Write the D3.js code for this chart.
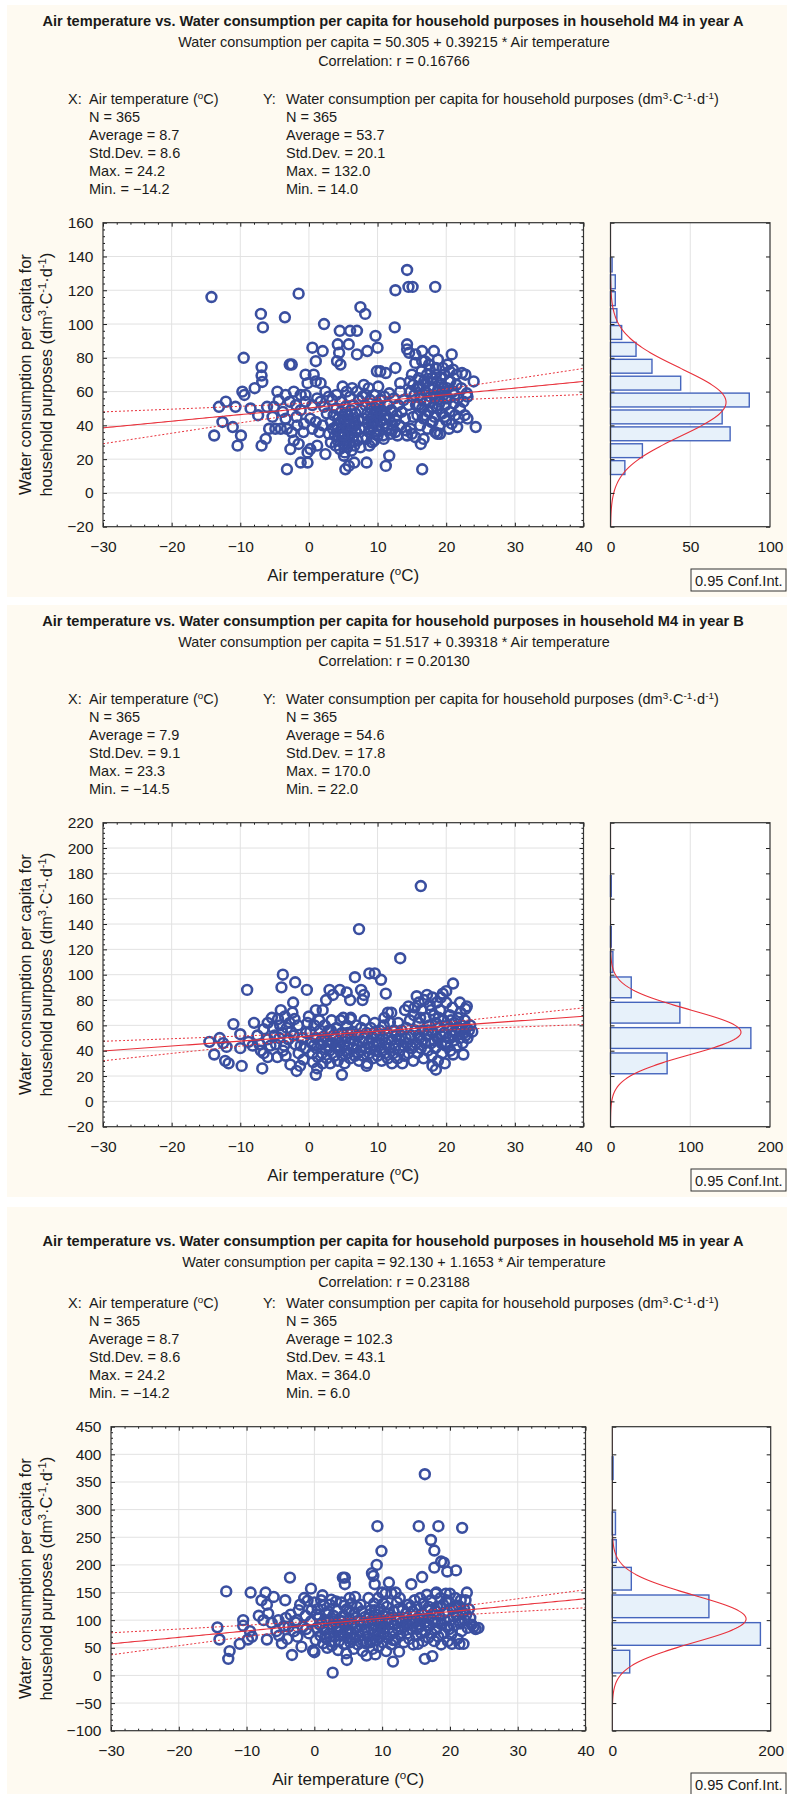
<!DOCTYPE html>
<html>
<head>
<meta charset="utf-8">
<script src="https://cdn.jsdelivr.net/npm/d3@7"></script>
<style>
  body { margin: 0; background: #fff; }
  svg { display: block; font-family: "Liberation Sans", Arial, sans-serif; }
</style>
</head>
<body>
<div id="chart"></div>
<script>
// ---- header data ----
const panelTitles = [
  "Air temperature vs. Water consumption per capita for household purposes in household M4 in year A",
  "Air temperature vs. Water consumption per capita for household purposes in household M4 in year B",
  "Air temperature vs. Water consumption per capita for household purposes in household M5 in year A"
];
const intercepts = [50.305, 51.517, 92.130];
const slopes = [0.39215, 0.39318, 1.1653];
const correlations = [0.16766, 0.20130, 0.23188];
const nObs = [365, 365, 365];
const xAvg = [8.7, 7.9, 8.7];
const xStd = [8.6, 9.1, 8.6];
const xMax = [24.2, 23.3, 24.2];
const xMin = [-14.2, -14.5, -14.2];
const yAvg = [53.7, 54.6, 102.3];
const yStd = [20.1, 17.8, 43.1];
const yMax = [132.0, 170.0, 364.0];
const yMin = [14.0, 22.0, 6.0];

// ---- axis ticks ----
const xTicks = [-30, -20, -10, 0, 10, 20, 30, 40];
const yTicksM4A = [-20, 0, 20, 40, 60, 80, 100, 120, 140, 160];
const yTicksM4B = [-20, 0, 20, 40, 60, 80, 100, 120, 140, 160, 180, 200, 220];
const yTicksM5A = [-100, -50, 0, 50, 100, 150, 200, 250, 300, 350, 400, 450];
const histTicksM4A = [0, 50, 100];
const histTicksM4B = [0, 100, 200];
const histTicksM5A = [0, 200];

// ---- histograms (bin start, count) ----
const binWidths = [10, 20, 50];
const binStartsM4A = [10, 20, 30, 40, 50, 60, 70, 80, 90, 100, 110, 120, 130];
const binCountsM4A = [9, 20, 75, 70, 87, 44, 26, 16, 7, 4, 3, 3, 1];
const binStartsM4B = [20, 40, 60, 80, 100, 120, 140, 160];
const binCountsM4B = [71, 176, 87, 26, 3, 1, 0, 1];
const binStartsM5A = [0, 50, 100, 150, 200, 250, 300, 350];
const binCountsM5A = [22, 187, 122, 24, 5, 4, 0, 1];

// ---- scatter points [air temperature, water consumption] ----
const pointsM4A = [
  [-14.2,116],[-1.5,118],[-7,106],[-6.7,98],[-3.5,104],[2.2,100],[4.5,96],[6,96],[7,96],[9.7,93],[7.5,110],[8.2,106],
  [12.5,98],[12.6,120],[14.3,132],[14.5,122],[15.1,122],[18.4,122],[20.8,82],[5.8,88],[4.2,88],[4.4,83],[4.1,78],[4.6,76],
  [7,82],[8.5,84],[10,86],[0.5,86],[2,84],[1,78],[-0.5,70],[0.7,70],[-0.2,65],[1,66],[1.7,65],[-9.5,80],[-6.9,74.5],
  [-6.9,69.5],[-6.8,65.7],[-2.8,76],[-2.5,76],
  [-13.8,34],[-13.1,51],[-12.1,54],[-12.6,42],[-11.1,39],[-10.7,51],[-10.4,28],[-9.9,34],[-9.7,60],[-9.4,58],[-8.5,50],
  [-7.9,62],[-7.4,46],[-6.9,28],[-6.3,32],[-6.1,51],[-5.1,51],[-5.3,45],[-5.8,38],[-4.9,38],[-4.1,38],[-3.2,38],[-4.6,60],
  [-3.4,58],[-2.2,60],[-3.4,44],[-2.7,26],[-3.2,14],[-2.2,31],[-1.5,29],[-1.9,52],[-1.2,49],[-0.5,54],[-1.2,58],[-0.5,58],
  [-1.2,18],[-0.2,18],[-0.2,24],[-0.7,41],[-1.7,40],[0.2,44],[1,42],[0.2,26],[1.2,28],[2.4,60],[2.9,57],[2.4,23],[1.7,54],
  [2.2,51],[4.9,63],[5.1,22],[5.3,14],[5.8,16],[6.6,18],[8.4,18],[11.2,16],[11.7,22],[16.5,14],
  [-2.5,36],[-1.8,45],[-0.8,36],[0.5,38],[1.5,36],[2,40],[-3.8,48],[-4.4,55],[-2.8,54],[0.5,52],[1.2,56],[2.6,47],[2.9,35],[3.2,30],
  [3.2,42],[3.5,38],[3.6,46],[3.8,34],[3.9,28],[4,50],[4.1,40],[4.2,31],[4.3,44],[4.4,36],[4.5,26],[4.6,54],[4.7,48],[4.8,33],
  [4.9,39],[5,29],[5,45],[5.1,35],[5.2,42],[5.3,51],[5.4,31],[5.5,38],[5.6,27],[5.7,46],[5.8,34],[5.9,41],[6,57],[6,30],
  [6.1,49],[6.2,37],[6.3,44],[6.4,33],[6.5,52],[6.6,28],[6.7,40],[6.8,47],[6.9,36],[7,60],[7.1,31],[7.2,43],[7.3,55],[7.4,38],
  [7.5,27],[7.6,49],[3.4,55],[4,58],[5.5,60],[6.3,62],[5.2,24],[6.2,25],
  [8,44],[8.1,38],[8.2,52],[8.3,58],[8.4,32],[8.5,47],[8.6,41],[8.7,62],[8.8,36],[8.9,55],[9,44],[9.1,50],[9.2,30],[9.3,39],
  [9.4,46],[9.5,58],[9.6,42],[9.7,35],[9.8,52],[9.9,48],[10,40],[10.1,63],[10.2,45],[10.3,37],[10.4,55],[10.5,43],[10.6,49],
  [10.8,34],[10.9,41],[11,57],[11.2,46],[11.4,38],[11.5,52],[11.7,44],[11.9,35],[12,49],[12.2,40],[12.4,56],[12.6,36],[12.8,46],
  [13,52],[13.2,40],[13.5,48],[13.8,55],[14,44],[14.2,37],[9.9,72],[10.4,72],[11.2,71],[12.6,74],[13.3,65],[11.7,59],[12.9,34],
  [12.1,37],[10.9,32],[10,34],[12.6,43],[12.1,48],[10.4,55],[13.3,60],[8.8,28],[9.5,31],[7.8,33],[8,64],[7.8,57],
  [14.3,88],[14.6,83],[14.3,85],[15.5,82],[16.5,84],[18.2,84],[15.5,77],[16.5,78],[17.5,76],[18.5,74],[19.5,74],[20.5,72],
  [21.5,70],[22.3,71],[22.8,70],[24,66],[23.1,57],[24.3,39],[23.1,44],[21.6,39],[21.8,44],[18.7,35],[16.3,29],[15.5,33],
  [18.4,36],[16.7,32],[14.8,38],[14.3,34],[15,35],
  [15,70],[15.2,64],[15.4,58],[15.6,52],[15.8,46],[16,68],[16.1,62],[16.3,56],[16.4,72],[16.5,50],[16.7,44],[16.8,66],[17,60],
  [17.1,54],[17.2,70],[17.4,48],[17.5,63],[17.7,57],[17.8,42],[17.9,68],[18,51],[18.1,62],[18.3,45],[18.4,56],[18.6,66],
  [18.7,50],[18.9,60],[19,40],[19.1,54],[19.3,64],[19.4,47],[19.6,58],[19.7,70],[19.9,52],[20,43],[20.1,62],[20.3,56],
  [20.5,48],[20.6,66],[20.8,41],[21,60],[21.1,53],[21.3,46],[21.5,64],[21.7,56],[22,50],[22.2,62],[22.5,54],[22.7,46],[23,59],
  [16.2,40],[17.3,38],[15.2,45],[14.8,60],[14.5,52],[19.8,45],[17.6,73],[16.9,78],[18.8,79],[20.2,76],[21,73],[19.1,35],[20.4,38],
  [15.8,62],[16.2,58],[16.6,64],[17.3,66],[17.6,54],[18.2,58],[18.5,70],[18.9,52],[19.2,68],[19.5,62],[20,56],[20.4,66],
  [21.2,58],[17,46],[18,42],[19.8,60],[16,52],[14.7,66],[4.2,38],[5,34],[5.6,43],[6.4,40],[5.3,47],[4.6,42],[9.2,42],
  [9.6,48],[10.5,47],[10,52],[9,38],[11,44]
];

const pointsM4B = [
  [-14.5,47],[-13,50],[-12.5,46],[-12,43],[-13.8,37],[-12.2,32],[-11.7,30],[-9.8,28],[-10,42],[-10,53],[-11,61],[-9,88],
  [-8,62],[-8.8,47],[-7.5,52],[-8.2,44],[-7,40],[-6.8,26],[-6.6,38],[-6,35],[-6.6,57],[-6,62],[-5.4,66],[-4.5,65],[-4.1,72],
  [-3.5,67],[-2.4,70],[-2.1,65],[-3.9,54],[-5,52],[-6,49],[-7.2,45],[-4.6,35],[-3.8,40],[-3,49],[-2.7,29],[-1.8,24],[-1.3,28],
  [-3.8,100],[-4,90],[-2,94],[-2.3,78],[-0.3,88],[-5.2,58],[-4.8,45],[-4.2,60],[-3.2,58],[-2.6,55],[-2,45],[-1.5,38],[-1,50],
  [-0.8,33],[-0.5,42],[-1.6,60],[-2.8,62],[-3.6,44],
  [0,67],[1,72],[2,72],[0.2,55],[0.4,46],[0.5,38],[0.6,31],[0.8,60],[1,50],[1.1,42],[1.2,26],[1.3,35],[1.5,64],[1.6,56],
  [1.7,45],[1.9,38],[2,30],[2.1,51],[2.3,60],[2.4,42],[2.6,34],[2.7,48],[2.9,56],[3,40],[3.1,30],[3.3,64],[3.4,46],[3.6,52],
  [3.7,36],[3.9,43],[4,58],[4.2,32],[4.3,48],[4.5,40],[4.6,64],[4.8,54],[4.9,36],[5.1,44],[5.2,30],[5.4,50],[5.5,60],[5.7,38],
  [5.9,46],[6,34],[6.1,66],[6.3,55],[6.4,42],[6.6,48],[6.7,36],[6.9,60],[7,44],[7.2,52],[7.3,32],[7.5,40],[7.6,58],[7.8,47],
  [7.9,36],[8.1,64],[8.2,42],[8.4,54],[8.5,30],[8.7,46],[8.8,38],[9,58],[9.1,50],[9.3,34],[9.4,44],[9.6,62],[9.7,40],[9.9,52],
  [10,36],[10.2,46],[10.3,56],[10.5,42],[10.6,32],[10.8,50],[10.9,60],[11.1,38],[11.2,46],[11.4,54],[11.5,34],[11.7,42],
  [11.8,62],[12,48],[12.1,30],[12.3,38],[12.4,56],[12.6,44],[12.7,52],[12.9,34],[13,62],[13.2,40],[13.3,48],[13.5,56],
  [13.6,30],[13.8,44],[13.9,36],
  [1,21],[4.8,21],[3,88],[4.5,88],[5.5,86],[3.5,84],[2.5,80],[6,80],[7.6,88],[8,84],[7.8,80],[11.2,85],[11.5,70],[12,70],
  [6.7,98],[8.8,101],[9.6,101],[10.5,96],[7.3,136],[13.3,113],[6,65],[5,66],[8.4,28],[-0.2,62],
  [14,72],[14.5,75],[15.7,83],[16,78],[18,82],[19.5,85],[20,87],[21,93],[22,78],[22.8,73],[23,75],[23.5,60],[23.8,55],
  [21,37],[22.5,37],[18.5,25],[16.3,170],
  [14.2,58],[14.3,46],[14.5,38],[14.7,64],[14.9,52],[15,42],[15.2,32],[15.3,68],[15.5,56],[15.6,46],[15.8,38],[16,62],
  [16.1,50],[16.3,42],[16.4,72],[16.6,56],[16.7,34],[16.9,46],[17,66],[17.2,52],[17.3,40],[17.5,60],[17.6,76],[17.8,46],
  [17.9,36],[18.1,54],[18.2,68],[18.4,42],[18.5,62],[18.7,50],[18.8,32],[19,58],[19.1,72],[19.3,46],[19.4,38],[19.6,64],
  [19.7,54],[19.9,44],[20,78],[20.2,60],[20.3,50],[20.5,68],[20.6,40],[20.8,56],[20.9,74],[21.1,48],[21.2,62],[21.4,54],
  [21.5,44],[21.7,66],[21.8,58],[22,50],[22.1,70],[22.3,60],[22.4,46],[22.6,54],[22.7,64],[22.9,58],[23.1,50],[23.3,56],
  [19.2,82],[18.6,78],[17.2,84],[16.8,80],[15.4,74],[19.8,30],[18,28],
  [-5.6,44],[-4.3,50],[-3.4,36],[-2.2,52],[-1.2,44],[-0.4,54],[0.7,44],[1.8,48],[2.8,44],[3.8,50],[4.4,44],[5.3,40],
  [6.2,50],[7.1,38],[8,50],[8.9,42],[9.8,46],[10.7,40],[11.6,50],[12.5,42],[13.4,52],[14.1,50],[14.8,44],[15.9,52],
  [16.5,48],[17.4,56],[18.3,48],[19.2,52],[20.1,46],[21,52],[21.9,56],[22.8,52],[16.2,66],[18.9,66],[20.7,64],[17.8,72],
  [3.2,56],[5.6,54],[9.5,54],[11,66]
];

const pointsM5A = [
  [-14.3,87],[-14,65],[-13,152],[-12.5,44],[-12.7,30],[-11,57],[-10.5,100],[-10.5,90],[-9.8,65],[-9.5,80],[-9.4,150],
  [-9.2,70],[-8.2,108],[-7.8,136],[-7.5,100],[-7.2,150],[-7,128],[-6.8,112],[-7,65],[-6.3,95],[-6,142],[-5.6,80],[-5.2,72],
  [-4.8,58],[-4.5,89],[-4.3,136],[-4,66],[-3.6,177],[-3.5,110],[-3.3,37],[-3,80],[-2.8,96],[-2.5,70],[-2.1,128],[-1.9,52],
  [-1.7,88],[-1.5,140],[-1.3,108],[-1,135],[-0.8,76],[-0.5,157],[-0.5,98],[-0.2,45],[0,42],[0,132],[0.2,64],[-2.3,118],[-4.2,104],
  [0.4,86],[0.5,120],[0.7,104],[0.9,72],[1.1,94],[1.2,145],[1.3,58],[1.5,82],[1.7,112],[1.8,66],[2,100],[2.2,76],[2.3,128],
  [2.5,137],[2.5,88],[2.6,54],[2.8,108],[3,70],[3.1,94],[3.3,80],[3.4,118],[3.6,62],[3.7,100],[3.9,86],[4,132],[4.1,74],
  [4.2,177],[4.3,108],[4.4,56],[4.5,177],[4.5,165],[4.6,92],[4.7,40],[4.8,28],[4.8,120],[4.9,68],[5,84],[5.2,140],[5.2,102],
  [5.3,60],[5.5,130],[5.5,76],[5.6,94],[5.8,48],[5.9,112],[6,68],[6.2,86],[6.3,124],[6.4,56],[6.6,100],[6.7,72],[6.9,90],
  [7,116],[7.1,44],[7.2,62],[7.4,82],[7.5,106],[7.7,36],[7.8,70],[7.9,96],[8,140],[2.7,5],[3.5,46],[1.9,50],
  [8.2,60],[8.3,118],[8.4,84],[8.5,185],[8.5,100],[8.6,48],[8.7,180],[8.7,74],[8.8,130],[8.9,165],[8.9,92],[9,38],[9.1,110],
  [9.2,200],[9.2,64],[9.3,270],[9.3,82],[9.4,140],[9.5,52],[9.6,100],[9.7,120],[9.8,70],[9.9,225],[9.9,88],[10,150],[10.1,60],
  [10.2,108],[10.3,78],[10.5,148],[10.5,96],[10.6,44],[10.7,124],[10.8,68],[11,168],[11,86],[11.2,104],[11.3,56],[11.4,148],
  [11.5,76],[11.6,25],[11.7,116],[11.8,92],[12,64],[12.2,132],[12.3,84],[12.5,43],[12.5,104],[12.6,140],[12.7,72],[12.9,96],
  [13,120],[13.2,60],[13.3,88],[13.5,112],[13.7,76],[13.9,128],[14,66],[14.1,100],
  [14.3,165],[14.4,84],[14.5,116],[14.6,56],[14.8,136],[14.9,96],[15,72],[15.1,124],[15.3,57],[15.3,104],[15.4,270],[15.5,88],
  [15.6,140],[15.8,76],[15.9,178],[15.9,112],[16,62],[16.1,130],[16.3,364],[16.3,30],[16.3,96],[16.4,80],[16.6,146],[16.7,118],
  [16.8,68],[16.9,104],[17,90],[17.2,245],[17.2,136],[17.3,76],[17.4,35],[17.5,112],[17.7,226],[17.7,195],[17.7,62],[17.8,98],
  [17.9,148],[18,84],[18.1,124],[18.3,270],[18.3,70],[18.4,108],[18.6,140],[18.7,206],[18.7,56],[18.8,92],[19,128],[19.1,204],
  [19.1,76],[19.3,114],[19.4,148],[19.6,188],[19.6,88],[19.7,62],[19.9,132],[20,100],[20.2,74],[20.3,57],[20.4,120],[20.6,90],
  [20.8,140],[20.9,190],[21,108],[21.1,66],[21.3,126],[21.4,57],[21.5,94],[21.7,80],[21.8,267],[21.9,114],[22,57],[22.2,100],
  [22.3,136],[22.5,150],[22.6,86],[22.8,120],[23,104],[23.2,92],[23.5,88],[24.2,86],[23.8,84],
  [0.3,110],[0.8,92],[1.4,126],[1.6,70],[2.1,116],[2.4,62],[2.9,98],[3.2,134],[3.5,88],[3.8,72],[4.1,98],[4.4,126],[4.7,80],
  [5.1,116],[5.4,92],[5.7,66],[6.1,104],[6.5,80],[6.8,128],[7.3,96],[7.6,58],[8.1,110],[8.4,64],[8.9,118],[9.4,76],[9.7,96],
  [10.2,130],[10.4,86],[10.9,112],[11.3,96],[11.6,64],[12.1,100],[12.4,120],[12.8,84],[13.4,104],[13.8,92],[14.2,124],
  [14.6,96],[15.2,84],[15.7,100],[16.1,110],[16.5,90],[16.9,124],[17.4,100],[17.9,116],[18.2,96],[18.6,124],[19.2,100],
  [19.5,136],[19.9,84],[20.5,108],[20.9,124],[21.3,100],[21.6,136],[22.1,120],[22.4,110],[-1.2,84],[-0.4,118],[-2.6,100],
  [-3.8,88],[-5.3,100],[1,136],[6,142],[12,150],[18,150],[20,148]
];

const tCrit = 1.9665; // t(0.975, df = 363)

// ---- layout ----
const W = 787, H = 1794;
const layouts = [
  { oy: 0,    cream: [5, 597],     left: 103, right: 583.5, histLeft: 610.5, histRight: 770,   head: [25.5, 47, 65.5], confX: 691, yMinor: 4 },
  { oy: 600,  cream: [605, 1197],  left: 103, right: 583.5, histLeft: 610.5, histRight: 770,   head: [25.5, 47, 65.5], confX: 691, yMinor: 4 },
  { oy: 1204, cream: [1207, 1794], left: 111, right: 585.5, histLeft: 612.3, histRight: 770.7, head: [42, 63, 82.5], confX: 691, yMinor: 10 }
];

const ink = '#1a1a1a';
const dotColor = '#3a4fa0';
const red = '#e8303a';

const svg = d3.select('#chart').append('svg')
  .attr('width', W)
  .attr('height', H);

const defs = svg.append('defs');

const degParts = ['(', { sup: 'o' }, 'C)'];
const unitParts = ['(dm', { sup: '3' }, '\u00B7C', { sup: '-1' }, '\u00B7d', { sup: '-1' }, ')'];

function rich(textSel, parts) {
  parts.forEach(function(p) {
    if (typeof p === 'string') textSel.append('tspan').text(p);
    else textSel.append('tspan').attr('baseline-shift', 'super').attr('font-size', '68%').text(p.sup);
  });
}

const f1 = d3.format('.1f');
const f5 = d3.format('.5r');

function drawPanel(i, points, yTicks, histTicks, binStarts, binCounts) {
  const L = layouts[i];
  const g = svg.append('g');
  const top = L.oy + 222.7, bottom = L.oy + 526.7;

  g.append('rect')
    .attr('x', 7).attr('y', L.cream[0])
    .attr('width', W - 7).attr('height', L.cream[1] - L.cream[0])
    .attr('fill', '#fefaf1');

  // header
  const head = g.append('g').attr('fill', ink).attr('text-anchor', 'middle');
  head.append('text').attr('x', 393).attr('y', L.oy + L.head[0])
    .attr('font-size', 14.6).attr('font-weight', 'bold').text(panelTitles[i]);
  head.append('text').attr('x', 394).attr('y', L.oy + L.head[1]).attr('font-size', 14.4)
    .text('Water consumption per capita = ' + f5(intercepts[i]) + ' + ' + f5(slopes[i]) + ' * Air temperature');
  head.append('text').attr('x', 394).attr('y', L.oy + L.head[2]).attr('font-size', 14.4)
    .text('Correlation: r = ' + f5(correlations[i]));

  const stats = g.append('g').attr('fill', ink).attr('font-size', 14.5);
  const sy0 = L.oy + 104, step = 18;
  stats.append('text').attr('x', 68).attr('y', sy0).text('X:');
  rich(stats.append('text').attr('x', 89).attr('y', sy0), ['Air temperature '].concat(degParts));
  stats.append('text').attr('x', 263).attr('y', sy0).text('Y:');
  rich(stats.append('text').attr('x', 286).attr('y', sy0),
    ['Water consumption per capita for household purposes '].concat(unitParts));
  const xLines = ['N = ' + nObs[i], 'Average = ' + f1(xAvg[i]), 'Std.Dev. = ' + f1(xStd[i]), 'Max. = ' + f1(xMax[i]), 'Min. = ' + f1(xMin[i])];
  const yLines = ['N = ' + nObs[i], 'Average = ' + f1(yAvg[i]), 'Std.Dev. = ' + f1(yStd[i]), 'Max. = ' + f1(yMax[i]), 'Min. = ' + f1(yMin[i])];
  xLines.forEach(function(t, k) { stats.append('text').attr('x', 89).attr('y', sy0 + step * (k + 1)).text(t); });
  yLines.forEach(function(t, k) { stats.append('text').attr('x', 286).attr('y', sy0 + step * (k + 1)).text(t); });

  // scales
  const x = d3.scaleLinear().domain(d3.extent(xTicks)).range([L.left, L.right]);
  const y = d3.scaleLinear().domain(d3.extent(yTicks)).range([bottom, top]);

  // ---------------- scatter ----------------
  const clipId = 'clip-sc-' + i;
  defs.append('clipPath').attr('id', clipId).append('rect')
    .attr('x', L.left).attr('y', top).attr('width', L.right - L.left).attr('height', bottom - top);

  g.append('rect').attr('x', L.left).attr('y', top)
    .attr('width', L.right - L.left).attr('height', bottom - top).attr('fill', '#fff');

  const grid = g.append('g').attr('stroke', '#e2e2e2').attr('stroke-width', 1);
  grid.selectAll('.gx').data(xTicks.slice(1, -1)).enter().append('line')
    .attr('x1', d => x(d)).attr('x2', d => x(d)).attr('y1', top).attr('y2', bottom);
  grid.selectAll('.gy').data(yTicks.slice(1, -1)).enter().append('line')
    .attr('y1', d => y(d)).attr('y2', d => y(d)).attr('x1', L.left).attr('x2', L.right);

  g.append('g').selectAll('circle').data(points).enter().append('circle')
    .attr('cx', d => x(d[0])).attr('cy', d => y(d[1])).attr('r', 4.9)
    .attr('fill', 'none').attr('stroke', dotColor).attr('stroke-width', 2.6);

  // regression line with 0.95 confidence band
  const n = nObs[i], r = correlations[i];
  const sRes = yStd[i] * Math.sqrt((1 - r * r) * (n - 1) / (n - 2));
  const sxx = (n - 1) * xStd[i] * xStd[i];
  const xs = d3.range(x.domain()[0], x.domain()[1] + 0.01, 0.5);
  const fit = v => intercepts[i] + slopes[i] * v;
  const half = v => tCrit * sRes * Math.sqrt(1 / n + (v - xAvg[i]) * (v - xAvg[i]) / sxx);
  const lineGen = d3.line().x(d => x(d[0])).y(d => y(d[1]));
  const lines = g.append('g').attr('clip-path', 'url(#' + clipId + ')').attr('fill', 'none').attr('stroke', red);
  lines.append('path').attr('stroke-width', 1.1).attr('d', lineGen(xs.map(v => [v, fit(v)])));
  lines.append('path').attr('stroke-width', 1).attr('stroke-dasharray', '2,2')
    .attr('d', lineGen(xs.map(v => [v, fit(v) + half(v)])));
  lines.append('path').attr('stroke-width', 1).attr('stroke-dasharray', '2,2')
    .attr('d', lineGen(xs.map(v => [v, fit(v) - half(v)])));

  // axes
  const xMinor = d3.range(x.domain()[0], x.domain()[1], 2).filter(v => xTicks.indexOf(v) < 0);
  const yMinor = d3.range(y.domain()[0], y.domain()[1], L.yMinor).filter(v => yTicks.indexOf(v) < 0);

  function styleAxis(sel) {
    sel.select('.domain').remove();
    sel.attr('font-family', null).attr('font-size', 15.5).attr('color', ink);
    sel.selectAll('line').attr('stroke-width', 1);
  }

  g.append('g').attr('transform', 'translate(0,' + bottom + ')')
    .call(d3.axisBottom(x).tickValues(xTicks).tickSizeInner(-4).tickSizeOuter(0).tickPadding(14).tickFormat(d3.format('d')))
    .call(styleAxis);
  g.append('g').attr('transform', 'translate(0,' + bottom + ')')
    .call(d3.axisBottom(x).tickValues(xMinor).tickSizeInner(-2).tickSizeOuter(0).tickFormat(''))
    .call(styleAxis);
  g.append('g').attr('transform', 'translate(0,' + top + ')')
    .call(d3.axisTop(x).tickValues(xTicks).tickSizeInner(-4).tickSizeOuter(0).tickFormat(''))
    .call(styleAxis);
  g.append('g').attr('transform', 'translate(0,' + top + ')')
    .call(d3.axisTop(x).tickValues(xMinor).tickSizeInner(-2).tickSizeOuter(0).tickFormat(''))
    .call(styleAxis);
  g.append('g').attr('transform', 'translate(' + L.left + ',0)')
    .call(d3.axisLeft(y).tickValues(yTicks).tickSizeInner(-4).tickSizeOuter(0).tickPadding(9.5).tickFormat(d3.format('d')))
    .call(styleAxis);
  g.append('g').attr('transform', 'translate(' + L.left + ',0)')
    .call(d3.axisLeft(y).tickValues(yMinor).tickSizeInner(-2).tickSizeOuter(0).tickFormat(''))
    .call(styleAxis);
  g.append('g').attr('transform', 'translate(' + L.right + ',0)')
    .call(d3.axisRight(y).tickValues(yTicks).tickSizeInner(-4).tickSizeOuter(0).tickFormat(''))
    .call(styleAxis);
  g.append('g').attr('transform', 'translate(' + L.right + ',0)')
    .call(d3.axisRight(y).tickValues(yMinor).tickSizeInner(-2).tickSizeOuter(0).tickFormat(''))
    .call(styleAxis);

  g.append('rect').attr('x', L.left).attr('y', top)
    .attr('width', L.right - L.left).attr('height', bottom - top)
    .attr('fill', 'none').attr('stroke', '#333').attr('stroke-width', 1.2);

  // axis titles
  const xt = g.append('text').attr('x', (L.left + L.right) / 2).attr('y', L.oy + 581)
    .attr('text-anchor', 'middle').attr('font-size', 17).attr('fill', ink);
  rich(xt, ['Air temperature '].concat(degParts));

  const cy = (top + bottom) / 2;
  g.append('text').attr('transform', 'translate(25,' + cy + ') rotate(-90)')
    .attr('text-anchor', 'middle').attr('dy', '0.35em').attr('font-size', 16.4).attr('fill', ink)
    .text('Water consumption per capita for');
  const yt2 = g.append('text').attr('transform', 'translate(46.5,' + cy + ') rotate(-90)')
    .attr('text-anchor', 'middle').attr('dy', '0.35em').attr('font-size', 16.4).attr('fill', ink);
  rich(yt2, ['household purposes '].concat(unitParts));

  // ---------------- histogram ----------------
  const hx = d3.scaleLinear().domain(d3.extent(histTicks)).range([L.histLeft, L.histRight]);
  const bw = binWidths[i];
  const hClip = 'clip-h-' + i;
  defs.append('clipPath').attr('id', hClip).append('rect')
    .attr('x', L.histLeft).attr('y', top).attr('width', L.histRight - L.histLeft).attr('height', bottom - top);

  g.append('rect').attr('x', L.histLeft).attr('y', top)
    .attr('width', L.histRight - L.histLeft).attr('height', bottom - top).attr('fill', '#fff');

  g.append('g').attr('stroke', '#e2e2e2').selectAll('line')
    .data(histTicks.slice(1, -1)).enter().append('line')
    .attr('x1', d => hx(d)).attr('x2', d => hx(d)).attr('y1', top).attr('y2', bottom);

  const bins = binStarts.map((s, k) => ({ lo: s, hi: s + bw, count: binCounts[k] })).filter(b => b.count > 0);
  g.append('g').selectAll('rect').data(bins).enter().append('rect')
    .attr('x', L.histLeft)
    .attr('y', d => y(d.hi) + (y(d.lo) - y(d.hi)) * 0.09)
    .attr('width', d => hx(d.count) - L.histLeft)
    .attr('height', d => (y(d.lo) - y(d.hi)) * 0.82)
    .attr('fill', '#e7f1fa').attr('stroke', '#4565bd').attr('stroke-width', 1.4);

  const mu = yAvg[i], sd = yStd[i];
  const ys = d3.range(y.domain()[0], y.domain()[1] + 0.01, (y.domain()[1] - y.domain()[0]) / 300);
  const normal = v => n * bw * Math.exp(-0.5 * ((v - mu) / sd) * ((v - mu) / sd)) / (sd * Math.sqrt(2 * Math.PI));
  g.append('path').attr('clip-path', 'url(#' + hClip + ')')
    .attr('fill', 'none').attr('stroke', red).attr('stroke-width', 1.1)
    .attr('d', d3.line().x(d => hx(normal(d))).y(d => y(d))(ys));

  g.append('g').attr('transform', 'translate(0,' + bottom + ')')
    .call(d3.axisBottom(hx).tickValues(histTicks).tickSizeInner(0).tickSizeOuter(0).tickPadding(14).tickFormat(d3.format('d')))
    .call(styleAxis);
  g.append('g').attr('transform', 'translate(' + L.histLeft + ',0)')
    .call(d3.axisLeft(y).tickValues(yTicks).tickSizeInner(-4).tickSizeOuter(0).tickFormat(''))
    .call(styleAxis);
  g.append('g').attr('transform', 'translate(' + L.histRight + ',0)')
    .call(d3.axisRight(y).tickValues(yTicks).tickSizeInner(-4).tickSizeOuter(0).tickFormat(''))
    .call(styleAxis);

  g.append('rect').attr('x', L.histLeft).attr('y', top)
    .attr('width', L.histRight - L.histLeft).attr('height', bottom - top)
    .attr('fill', 'none').attr('stroke', '#333').attr('stroke-width', 1.2);

  // legend box
  const cb = g.append('g').attr('transform', 'translate(' + L.confX + ',' + (L.oy + 569) + ')');
  cb.append('rect').attr('width', 95).attr('height', 22).attr('fill', '#fffdf8').attr('stroke', '#333');
  cb.append('text').attr('x', 4).attr('y', 16.5).attr('font-size', 14.6).attr('fill', ink).text('0.95 Conf.Int.');
}

drawPanel(0, pointsM4A, yTicksM4A, histTicksM4A, binStartsM4A, binCountsM4A);
drawPanel(1, pointsM4B, yTicksM4B, histTicksM4B, binStartsM4B, binCountsM4B);
drawPanel(2, pointsM5A, yTicksM5A, histTicksM5A, binStartsM5A, binCountsM5A);
</script>
</body>
</html>
